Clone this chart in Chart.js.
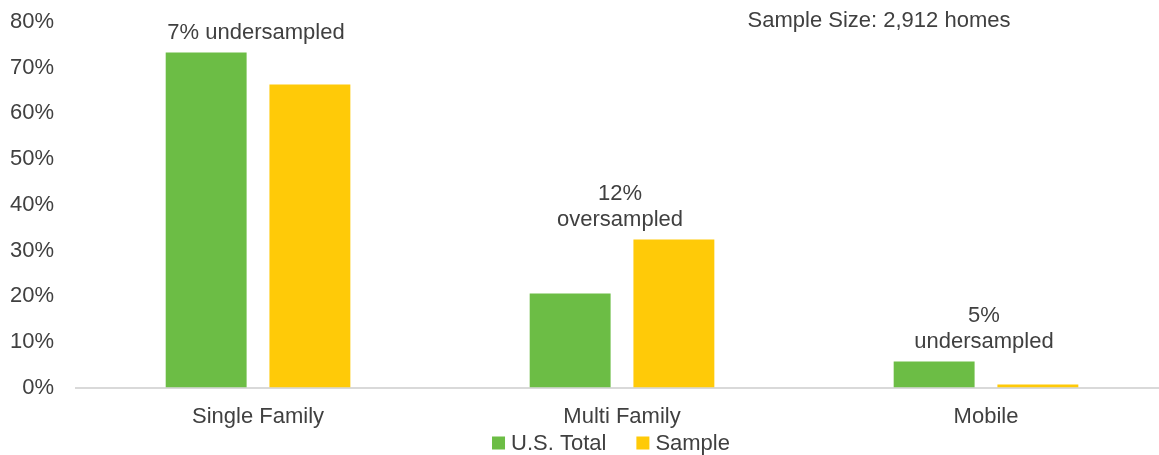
<!DOCTYPE html>
<html>
<head>
<meta charset="utf-8">
<script src="https://cdn.jsdelivr.net/npm/chart.js@4.4.1/dist/chart.umd.min.js"></script>
<style>
  html, body { margin: 0; padding: 0; background: #fff; overflow: hidden; }
  #wrap { width: 1159px; height: 455px; overflow: hidden; }
</style>
</head>
<body>
<div id="wrap"><canvas id="tipo_vivienda" width="1172" height="455"></canvas></div>
<script>
const categorias = ["Single Family", "Multi Family", "Mobile"];
const us_total = [73.3, 20.6, 5.7];
const muestra = [66.3, 32.4, 0.7];
const notas = [["7% undersampled"], ["12%", "oversampled"], ["5%", "undersampled"]];
const texto_muestra = "Sample Size: 2,912 homes";

const FUENTE = "'Liberation Sans', Arial, sans-serif";
const GRIS = "#404040";

// notas encima de cada grupo de barras + leyenda propia
const plugin_notas = {
  id: "notas",
  afterDatasetsDraw: (chart) => {
    const ctx = chart.ctx;
    const x = chart.scales.x;
    const y = chart.scales.y;
    ctx.save();
    ctx.font = "22px " + FUENTE;
    ctx.fillStyle = GRIS;
    ctx.textAlign = "center";
    ctx.textBaseline = "middle";
    notas.forEach((lineas, i) => {
      const cx = x.getPixelForValue(i) - 2;
      const tope = y.getPixelForValue(Math.max(us_total[i], muestra[i]));
      lineas.forEach((linea, k) => {
        const dy = 20 + (lineas.length - 1 - k) * 26;
        ctx.fillText(linea, cx, tope - dy);
      });
    });
    ctx.fillText(texto_muestra, 879, 21);

    // leyenda
    const items = chart.data.datasets.map((ds) => ({
      texto: ds.label,
      color: ds.backgroundColor,
      ancho: 13 + 6 + ctx.measureText(ds.label).width,
    }));
    const total = items.reduce((s, it) => s + it.ancho, 0) + 30 * (items.length - 1);
    let lx = 611 - total / 2;
    const ly = 443;
    ctx.textAlign = "left";
    items.forEach((it) => {
      ctx.fillStyle = it.color;
      ctx.fillRect(lx, ly - 6.5, 13, 13);
      ctx.fillStyle = GRIS;
      ctx.fillText(it.texto, lx + 19, ly + 1);
      lx += it.ancho + 30;
    });
    ctx.restore();
  },
};

const ctx = document.getElementById("tipo_vivienda").getContext("2d");
const chart = new Chart(ctx, {
  type: "bar",
  data: {
    labels: categorias,
    datasets: [
      {
        label: "U.S. Total",
        data: us_total,
        backgroundColor: "#6cbd45",
        borderWidth: 0,
        barPercentage: 0.78,
        categoryPercentage: 0.57,
      },
      {
        label: "Sample",
        data: muestra,
        backgroundColor: "#ffca08",
        borderWidth: 0,
        barPercentage: 0.78,
        categoryPercentage: 0.57,
      },
    ],
  },
  options: {
    responsive: false,
    animation: false,
    layout: { padding: { top: 22, left: -12, right: 4, bottom: 9 } },
    plugins: {
      legend: { display: false },
      tooltip: { enabled: false },
    },
    scales: {
      x: {
        grid: { display: false, drawTicks: false },
        border: { color: "#d9d9d9", width: 2 },
        ticks: { font: { size: 22, family: FUENTE }, color: GRIS, padding: 16 },
      },
      y: {
        min: 0,
        max: 80,
        grid: { display: false, drawTicks: false },
        border: { display: false },
        ticks: {
          stepSize: 10,
          font: { size: 22, family: FUENTE },
          color: GRIS,
          padding: 22,
          callback: (v) => v + "%",
        },
        afterFit: (scale) => {
          scale.paddingTop = 13;
          scale.paddingBottom = 13;
        },
      },
    },
  },
  plugins: [plugin_notas],
});
</script>
</body>
</html>
